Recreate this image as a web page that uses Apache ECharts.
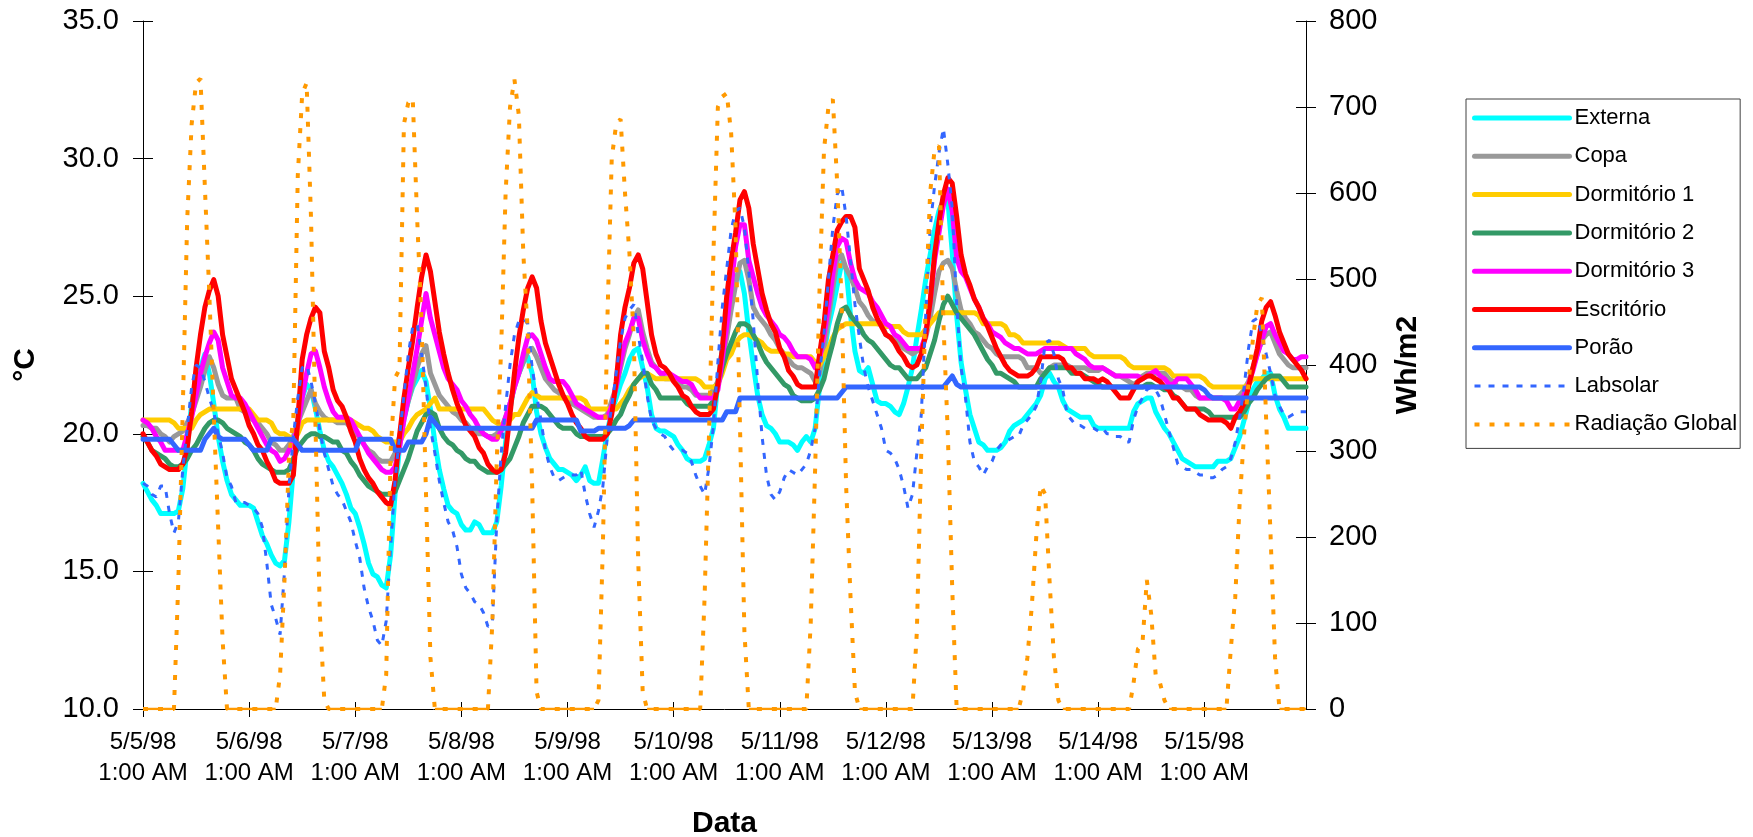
<!DOCTYPE html>
<html lang="pt-BR">
<head>
<meta charset="utf-8">
<title>Temperaturas internas e radiação global</title>
<script src="https://cdn.jsdelivr.net/npm/echarts@6/dist/echarts.min.js"></script>
<style>
  html, body { margin: 0; padding: 0; background: #ffffff; }
  #grafico { width: 1753px; height: 837px; }
</style>
</head>
<body>
<div id="grafico"></div>
<script>
// Dias e horas das leituras (uma leitura por hora)
const dias = ['5/5/98', '5/6/98', '5/7/98', '5/8/98', '5/9/98', '5/10/98',
  '5/11/98', '5/12/98', '5/13/98', '5/14/98', '5/15/98'];
const horas = ['1:00 AM', '2:00 AM', '3:00 AM', '4:00 AM', '5:00 AM', '6:00 AM',
  '7:00 AM', '8:00 AM', '9:00 AM', '10:00 AM', '11:00 AM', '12:00 PM',
  '1:00 PM', '2:00 PM', '3:00 PM', '4:00 PM', '5:00 PM', '6:00 PM',
  '7:00 PM', '8:00 PM', '9:00 PM', '10:00 PM', '11:00 PM', '12:00 AM'];

// Temperaturas (°C), uma linha por dia
const externa = [
  18.2,17.9,17.6,17.4,17.1,17.1,17.1,17.1,17.2,18.0,19.5,21.1,21.9,22.4,22.9,22.2,21.1,19.9,19.0,18.3,17.8,17.6,17.4,17.4,
  17.4,17.3,16.8,16.3,16.0,15.6,15.3,15.2,15.4,16.8,18.7,20.5,21.3,21.8,21.6,20.9,20.1,19.4,19.0,18.8,18.5,18.2,17.8,17.3,
  17.1,16.6,16.0,15.3,14.9,14.8,14.5,14.4,15.6,17.8,19.5,20.5,21.2,21.7,22.0,22.3,21.9,20.9,19.7,18.7,18.0,17.4,17.2,17.1,
  16.7,16.5,16.5,16.8,16.7,16.4,16.4,16.4,16.8,18.1,19.7,20.9,21.8,22.2,22.6,22.8,22.2,20.8,20.0,19.5,19.1,18.9,18.7,18.7,
  18.6,18.5,18.3,18.5,18.8,18.3,18.2,18.2,19.1,20.1,20.8,21.3,21.8,22.2,22.7,23.0,23.1,22.4,21.7,20.7,20.2,20.1,20.1,20.0,
  19.9,19.6,19.4,19.1,19.0,19.0,19.0,19.1,19.6,20.2,21.9,23.1,23.9,24.8,25.7,25.9,25.1,23.7,22.5,21.4,20.7,20.3,20.2,20.0,
  19.7,19.7,19.7,19.6,19.4,19.7,19.9,19.7,20.2,21.7,22.9,23.9,24.6,25.4,26.2,26.0,24.3,23.0,22.3,22.2,22.4,21.8,21.2,21.1,
  21.1,21.0,20.8,20.7,21.1,21.7,22.4,23.5,24.5,25.6,26.5,27.4,28.1,28.5,28.5,26.6,24.3,22.6,21.6,20.7,20.2,19.7,19.6,19.4,
  19.4,19.4,19.5,19.7,20.1,20.3,20.4,20.5,20.7,20.9,21.1,21.4,22.0,22.2,21.9,21.7,21.2,20.9,20.8,20.7,20.6,20.6,20.6,20.3,
  20.2,20.2,20.2,20.2,20.2,20.2,20.2,20.2,20.8,21.1,21.2,21.3,21.3,20.8,20.5,20.2,20.0,19.7,19.4,19.1,19.0,18.9,18.8,18.8,
  18.8,18.8,18.8,19.0,19.0,19.0,19.1,19.5,19.9,20.5,21.1,21.6,21.9,22.0,22.2,22.2,21.4,20.9,20.6,20.2,20.2,20.2,20.2,20.2
];
const copa = [
  20.3,20.3,20.2,20.2,20.0,19.9,19.7,19.9,20.0,20.1,20.4,20.7,21.2,21.7,22.3,22.8,22.4,21.8,21.4,21.3,21.3,21.3,20.9,20.8,
  20.6,20.5,20.4,20.2,20.0,19.7,19.6,19.4,19.4,19.6,19.9,20.4,20.8,21.2,21.6,21.1,20.8,20.6,20.5,20.5,20.4,20.4,20.4,20.2,
  20.0,19.9,19.6,19.4,19.3,19.1,19.0,19.0,19.0,19.3,19.9,20.6,21.2,21.8,22.4,22.9,23.2,22.2,21.8,21.4,21.2,21.0,20.8,20.7,
  20.5,20.4,20.2,20.1,20.0,20.0,19.9,19.9,20.0,20.2,20.6,21.1,21.7,22.2,22.6,23.0,23.1,22.8,22.4,22.0,21.8,21.6,21.5,21.3,
  21.3,21.1,21.0,20.9,20.8,20.7,20.6,20.6,20.6,20.7,21.2,21.7,22.4,23.1,23.6,24.2,24.5,23.7,23.1,22.6,22.4,22.2,22.0,22.0,
  22.0,21.9,21.7,21.7,21.6,21.4,21.4,21.4,21.4,21.6,21.9,22.7,23.5,24.5,25.4,26.2,26.3,25.6,24.6,24.3,24.1,23.9,23.6,23.4,
  23.1,22.9,22.7,22.5,22.4,22.4,22.3,22.2,21.9,22.2,23.1,24.2,25.3,26.3,26.5,26.0,25.7,25.3,24.8,24.6,24.3,24.1,24.0,24.0,
  23.6,23.5,23.4,23.3,23.1,23.0,22.9,23.0,23.1,23.5,24.2,25.1,25.9,26.2,26.3,26.0,25.2,24.5,24.2,24.0,23.7,23.6,23.4,23.2,
  23.1,22.9,22.8,22.8,22.8,22.8,22.8,22.7,22.4,22.4,22.4,22.2,22.2,22.4,22.5,22.5,22.5,22.5,22.4,22.4,22.4,22.4,22.3,22.3,
  22.3,22.4,22.3,22.2,22.1,22.1,22.0,21.9,21.8,21.9,22.1,22.2,22.2,22.2,22.2,22.2,22.0,21.9,21.7,21.7,21.6,21.6,21.4,21.3,
  21.3,21.3,21.3,21.3,21.3,21.3,21.3,21.3,21.4,21.6,21.9,22.4,22.9,23.4,23.6,23.7,23.3,22.9,22.7,22.5,22.4,22.4,22.4,22.4
];
const dormitorio1 = [
  20.5,20.5,20.5,20.5,20.5,20.5,20.5,20.4,20.2,20.2,20.2,20.2,20.5,20.7,20.8,20.9,20.9,20.9,20.9,20.9,20.9,20.9,20.9,20.9,
  20.9,20.7,20.5,20.5,20.5,20.4,20.1,20.0,20.0,19.9,19.7,20.0,20.4,20.5,20.5,20.5,20.5,20.5,20.5,20.5,20.5,20.5,20.5,20.5,
  20.4,20.3,20.2,20.2,20.1,19.9,19.8,19.7,19.7,19.7,19.7,20.0,20.2,20.5,20.7,20.8,20.9,21.1,21.3,20.9,20.9,20.9,20.9,20.9,
  20.9,20.9,20.9,20.9,20.9,20.9,20.7,20.5,20.4,20.3,20.3,20.5,20.7,20.7,21.0,21.3,21.5,21.4,21.3,21.3,21.3,21.3,21.3,21.3,
  21.3,21.3,21.3,21.3,21.2,20.9,20.9,20.9,20.9,20.9,20.9,20.9,21.1,21.3,21.6,21.8,22.0,22.1,22.2,22.1,22.0,22.0,22.0,22.0,
  22.0,22.0,22.0,22.0,22.0,22.0,21.9,21.7,21.7,21.7,21.8,22.2,22.7,22.9,23.3,23.5,23.6,23.6,23.5,23.4,23.3,23.1,23.0,23.0,
  23.0,22.9,22.9,22.8,22.8,22.8,22.8,22.8,22.6,22.5,22.8,23.1,23.5,23.8,23.9,24.0,24.0,24.0,24.0,24.0,24.0,24.0,24.0,24.0,
  23.9,23.9,23.9,23.9,23.7,23.6,23.6,23.6,23.6,23.8,24.0,24.2,24.4,24.4,24.4,24.4,24.4,24.4,24.4,24.4,24.4,24.3,24.0,24.0,
  24.0,24.0,24.0,23.9,23.6,23.6,23.5,23.3,23.3,23.3,23.3,23.3,23.3,23.3,23.3,23.3,23.2,23.1,23.1,23.1,23.1,23.1,22.9,22.8,
  22.8,22.8,22.8,22.8,22.8,22.8,22.7,22.5,22.4,22.4,22.4,22.4,22.4,22.4,22.4,22.4,22.3,22.1,22.1,22.1,22.1,22.1,22.1,22.1,
  22.0,21.8,21.7,21.7,21.7,21.7,21.7,21.7,21.7,21.7,21.8,22.0,22.0,22.0,22.0,22.0,22.0,22.0,22.0,22.0,22.0,22.0,22.0,22.0
];
const dormitorio2 = [
  19.9,19.7,19.4,19.3,19.2,19.1,18.9,18.8,18.8,18.9,19.1,19.4,19.6,19.9,20.2,20.4,20.5,20.5,20.4,20.2,20.1,20.0,19.9,19.7,
  19.6,19.4,19.1,18.9,18.8,18.7,18.6,18.6,18.6,18.7,19.1,19.5,19.7,19.9,20.0,20.0,19.9,19.9,19.8,19.7,19.7,19.4,19.3,19.0,
  18.8,18.5,18.3,18.1,18.0,17.9,17.8,17.8,17.8,17.9,18.3,18.7,19.1,19.6,20.1,20.4,20.7,20.8,20.7,20.2,19.9,19.7,19.6,19.4,
  19.3,19.1,19.0,19.0,18.8,18.7,18.6,18.6,18.6,18.7,18.9,19.1,19.5,19.9,20.4,20.7,21.0,21.0,21.0,20.9,20.7,20.5,20.3,20.2,
  20.2,20.2,20.0,19.9,19.9,19.9,19.9,19.9,19.9,20.0,20.2,20.5,20.7,21.1,21.4,21.8,22.0,22.2,22.2,21.8,21.6,21.3,21.3,21.3,
  21.3,21.3,21.3,21.1,21.0,21.0,21.0,21.0,21.0,21.2,21.8,22.4,22.9,23.3,23.7,24.0,24.0,23.9,23.6,23.3,22.9,22.6,22.4,22.2,
  22.0,21.8,21.7,21.4,21.3,21.2,21.2,21.2,21.3,21.6,22.0,22.7,23.3,24.0,24.5,24.6,24.3,24.1,23.9,23.6,23.4,23.3,23.1,22.9,
  22.7,22.5,22.4,22.4,22.2,22.0,22.0,22.0,22.2,22.4,22.9,23.4,24.1,24.7,25.0,24.7,24.4,24.2,24.0,23.8,23.6,23.3,23.0,22.7,
  22.5,22.2,22.2,22.1,22.0,21.9,21.7,21.7,21.7,21.7,21.7,22.0,22.2,22.4,22.4,22.4,22.4,22.4,22.2,22.2,22.2,22.1,22.0,21.9,
  21.8,21.7,21.7,21.7,21.7,21.7,21.7,21.7,21.7,21.7,21.7,21.8,21.8,21.7,21.7,21.6,21.6,21.4,21.3,21.1,20.9,20.9,20.9,20.9,
  20.9,20.8,20.6,20.6,20.6,20.6,20.6,20.6,20.6,20.8,21.1,21.3,21.6,21.8,22.0,22.1,22.1,22.1,21.9,21.7,21.7,21.7,21.7,21.7
];
const dormitorio3 = [
  20.5,20.4,20.2,19.9,19.7,19.4,19.4,19.4,19.4,19.4,20.0,20.6,21.4,22.2,22.8,23.3,23.7,23.4,22.4,21.9,21.4,21.3,21.3,21.1,
  20.8,20.5,20.2,19.9,19.6,19.4,19.3,19.0,19.1,19.4,19.7,20.3,21.3,22.2,22.9,23.0,22.4,21.7,21.2,20.8,20.6,20.6,20.6,20.5,
  20.2,19.9,19.6,19.3,19.1,18.9,18.7,18.6,18.6,18.8,19.5,20.5,21.3,22.2,23.1,24.1,25.1,24.2,23.6,23.0,22.4,22.0,21.8,21.6,
  21.2,21.0,20.7,20.5,20.2,20.0,19.9,19.8,19.8,20.1,20.6,21.1,21.7,22.2,22.9,23.5,23.6,23.4,22.9,22.4,22.0,21.9,21.9,21.9,
  21.7,21.4,21.1,21.0,20.9,20.8,20.7,20.6,20.6,20.6,21.0,21.7,22.6,23.3,23.7,24.2,24.2,23.4,22.9,22.5,22.4,22.2,22.2,22.2,
  22.1,22.0,21.9,21.9,21.8,21.5,21.3,21.3,21.3,21.3,21.6,22.7,23.9,25.3,26.8,27.6,27.6,26.3,25.7,25.1,24.6,24.3,24.1,23.9,
  23.6,23.5,23.3,23.0,22.8,22.8,22.8,22.7,22.4,22.7,23.6,24.6,25.8,26.8,27.1,27.0,26.2,25.6,25.3,25.2,25.1,24.8,24.6,24.3,
  24.0,23.9,23.6,23.5,23.3,23.1,23.1,23.1,23.1,23.6,24.8,26.3,27.3,28.3,28.9,28.1,26.4,25.9,25.7,25.3,24.9,24.6,24.2,24.0,
  23.7,23.6,23.5,23.3,23.2,23.1,23.1,23.0,22.9,22.9,22.9,23.0,23.1,23.1,23.1,23.1,23.1,23.1,23.1,22.9,22.8,22.7,22.5,22.4,
  22.4,22.4,22.3,22.2,22.1,22.1,22.1,22.1,22.1,22.1,22.0,22.1,22.2,22.3,22.1,22.0,21.8,21.8,22.0,22.0,22.0,21.8,21.6,21.3,
  21.3,21.3,21.3,21.3,21.3,21.2,20.9,20.9,21.2,21.4,21.8,22.3,22.9,23.4,23.9,24.0,23.6,23.3,23.0,22.9,22.7,22.7,22.8,22.8
];
const escritorio = [
  20.0,19.7,19.4,19.2,18.9,18.8,18.7,18.7,18.7,18.9,19.5,20.8,22.4,23.6,24.6,25.2,25.6,25.0,23.6,22.8,22.0,21.6,21.2,20.8,
  20.3,20.0,19.6,19.4,19.0,18.7,18.3,18.2,18.2,18.2,18.5,20.5,22.7,23.6,24.2,24.6,24.4,23.0,22.4,21.6,21.2,21.0,20.6,20.1,
  19.7,19.1,18.7,18.4,18.2,17.9,17.7,17.5,17.4,18.3,19.9,21.3,22.4,23.4,24.6,25.7,26.5,25.9,24.8,23.7,22.9,22.2,21.6,21.1,
  20.7,20.3,20.1,19.9,19.5,19.3,18.9,18.7,18.6,18.7,19.3,20.7,22.2,23.5,24.5,25.3,25.7,25.3,24.1,23.3,22.8,22.3,21.8,21.4,
  21.1,20.7,20.4,20.2,19.9,19.8,19.8,19.8,19.8,20.0,20.7,21.9,23.6,24.6,25.3,26.2,26.5,26.0,24.8,23.6,22.9,22.5,22.4,22.2,
  21.9,21.7,21.4,21.3,21.0,20.8,20.7,20.7,20.7,20.9,21.8,23.1,25.0,26.3,27.3,28.5,28.8,28.2,26.9,26.0,25.1,24.5,24.0,23.7,
  23.1,22.8,22.3,22.1,21.8,21.7,21.7,21.7,21.7,22.9,24.0,25.6,26.5,27.4,27.7,27.9,27.9,27.5,26.0,25.6,25.2,24.6,24.2,23.9,
  23.6,23.5,23.3,23.0,22.8,22.5,22.4,22.5,22.9,23.6,24.8,26.5,27.7,28.7,29.3,29.1,27.9,26.5,25.8,25.4,24.9,24.6,24.2,23.9,
  23.5,23.1,22.8,22.5,22.3,22.2,22.1,22.1,22.1,22.2,22.4,22.8,22.8,22.8,22.8,22.8,22.7,22.4,22.4,22.2,22.2,22.0,22.0,22.0,
  21.9,22.0,21.9,21.7,21.5,21.3,21.3,21.3,21.6,21.9,22.0,22.1,22.1,22.0,21.9,21.7,21.6,21.3,21.3,21.1,20.9,20.9,20.9,20.7,
  20.6,20.5,20.5,20.5,20.5,20.4,20.2,20.6,20.8,21.1,21.7,22.4,23.1,24.1,24.6,24.8,24.3,23.7,23.3,22.9,22.7,22.5,22.3,22.0
];
const porao = [
  19.8,19.8,19.8,19.8,19.8,19.8,19.8,19.6,19.4,19.4,19.4,19.4,19.4,19.4,19.8,20.0,20.2,19.9,19.8,19.8,19.8,19.8,19.8,19.8,
  19.6,19.4,19.4,19.4,19.4,19.8,19.8,19.8,19.8,19.8,19.8,19.6,19.4,19.4,19.4,19.4,19.4,19.4,19.4,19.4,19.4,19.4,19.4,19.4,
  19.4,19.8,19.8,19.8,19.8,19.8,19.8,19.8,19.8,19.4,19.4,19.4,19.7,19.7,19.7,19.7,20.0,20.6,20.4,20.2,20.2,20.2,20.2,20.2,
  20.2,20.2,20.2,20.2,20.2,20.2,20.2,20.2,20.2,20.2,20.2,20.2,20.2,20.2,20.2,20.2,20.2,20.5,20.5,20.5,20.5,20.5,20.5,20.5,
  20.5,20.5,20.5,20.1,20.1,20.1,20.1,20.2,20.2,20.2,20.2,20.2,20.2,20.2,20.3,20.5,20.5,20.5,20.5,20.5,20.5,20.5,20.5,20.5,
  20.5,20.5,20.5,20.5,20.5,20.5,20.5,20.5,20.5,20.5,20.5,20.5,20.8,20.8,20.8,21.3,21.3,21.3,21.3,21.3,21.3,21.3,21.3,21.3,
  21.3,21.3,21.3,21.3,21.3,21.3,21.3,21.3,21.3,21.3,21.3,21.3,21.3,21.3,21.5,21.7,21.7,21.7,21.7,21.7,21.7,21.7,21.7,21.7,
  21.7,21.7,21.7,21.7,21.7,21.7,21.7,21.7,21.7,21.7,21.7,21.7,21.7,21.7,21.9,22.1,21.8,21.7,21.7,21.7,21.7,21.7,21.7,21.7,
  21.7,21.7,21.7,21.7,21.7,21.7,21.7,21.7,21.7,21.7,21.7,21.7,21.7,21.7,21.7,21.7,21.7,21.7,21.7,21.7,21.7,21.7,21.7,21.7,
  21.7,21.7,21.7,21.7,21.7,21.7,21.7,21.7,21.7,21.7,21.7,21.7,21.7,21.7,21.7,21.7,21.7,21.7,21.7,21.7,21.7,21.7,21.7,21.7,
  21.6,21.4,21.3,21.3,21.3,21.3,21.3,21.3,21.3,21.3,21.3,21.3,21.3,21.3,21.3,21.3,21.3,21.3,21.3,21.3,21.3,21.3,21.3,21.3
];
const labsolar = [
  18.2,18.1,17.8,17.7,18.1,18.1,17.1,16.4,16.8,18.7,20.2,21.7,22.5,22.4,21.9,21.3,20.8,20.0,19.3,18.4,18.1,17.5,17.5,17.5,
  17.4,17.3,17.1,16.6,15.3,13.8,13.3,12.7,15.0,18.0,19.9,21.3,22.4,22.5,21.9,21.1,20.1,19.3,18.7,18.1,17.8,17.6,17.2,16.8,
  16.1,15.5,14.4,13.7,13.2,12.5,12.3,13.2,15.9,18.3,19.9,21.4,22.9,23.9,24.0,22.9,21.7,20.2,19.3,18.3,17.5,16.8,16.5,15.9,
  14.9,14.4,14.2,13.9,13.8,13.5,13.0,13.1,16.8,19.3,21.0,22.5,23.6,24.1,24.2,24.0,22.4,21.4,20.5,19.4,18.8,18.4,18.3,18.4,
  18.5,18.5,18.5,18.7,17.8,17.1,16.6,17.2,18.1,19.9,21.0,22.2,23.4,24.2,24.5,24.7,23.6,22.6,21.4,20.5,20.2,20.0,19.9,19.6,
  19.4,19.4,19.4,19.3,19.0,18.5,18.1,17.8,18.8,20.3,22.6,24.6,26.0,27.4,28.1,28.2,27.5,25.9,24.1,21.9,19.9,18.5,17.8,17.6,
  17.9,18.4,18.7,18.6,18.5,18.7,18.9,19.4,20.2,22.2,23.6,25.6,27.5,28.7,29.0,27.9,26.3,24.7,23.5,22.4,21.7,21.2,20.7,20.2,
  19.4,19.3,19.1,18.7,18.1,17.3,17.8,19.3,20.7,24.3,27.5,29.0,30.2,31.1,29.8,28.2,24.7,22.4,21.3,19.7,19.0,18.8,18.5,18.8,
  19.0,19.4,19.6,19.7,19.8,19.9,19.9,20.3,20.5,20.7,21.0,21.9,23.3,23.4,22.9,22.0,21.6,20.7,20.5,20.3,20.3,20.2,20.2,20.2,
  20.1,20.2,20.0,20.0,19.9,19.9,19.7,19.7,20.5,21.0,21.3,21.6,21.7,21.6,21.3,20.7,20.1,19.5,18.9,18.8,18.7,18.7,18.6,18.5,
  18.5,18.4,18.4,18.5,18.7,18.8,19.1,19.7,20.6,21.7,23.1,24.1,24.2,23.6,22.9,22.2,21.4,21.0,20.7,20.6,20.7,20.8,20.8,20.8
];

// Radiação global horária (Wh/m2)
const radiacaoGlobal = [
  0,0,0,0,0,0,0,0,150,350,570,680,728,733,606,482,343,211,80,0,0,0,0,0,
  0,0,0,0,0,0,0,40,150,290,340,620,715,728,570,330,110,10,0,0,0,0,0,0,
  0,0,0,0,0,0,0,40,300,385,395,680,705,710,570,450,250,60,0,0,0,0,0,0,
  0,0,0,0,0,0,0,100,290,420,600,700,732,690,530,440,260,20,0,0,0,0,0,0,
  0,0,0,0,0,0,0,10,190,450,640,680,686,600,530,430,170,20,0,0,0,0,0,0,
  0,0,0,0,0,0,0,130,320,530,700,712,716,670,560,330,90,0,0,0,0,0,0,0,
  0,0,0,0,0,0,0,100,280,490,650,700,709,610,470,260,130,20,0,0,0,0,0,0,
  0,0,0,0,0,0,0,90,300,470,600,650,655,450,320,140,0,0,0,0,0,0,0,0,
  0,0,0,0,0,0,0,20,60,120,200,260,250,150,60,10,0,0,0,0,0,0,0,0,
  0,0,0,0,0,0,0,0,30,70,75,150,110,40,30,10,0,0,0,0,0,0,0,0,
  0,0,0,0,0,0,70,130,240,320,380,430,470,478,335,200,60,0,0,0,0,0,0,0
];

const fonte = "'Liberation Sans', Arial, Helvetica, sans-serif";
const preto = '#000000';
const corRadiacao = '#FF9900';

// Eixo de categorias: dia + hora de cada leitura
const categorias = [];
dias.forEach(function (d) {
  horas.forEach(function (h) { categorias.push(d + '\n' + h); });
});

// Trechos noturnos (radiação nula) desenhados como traço contínuo sobre o eixo
const radiacaoNula = radiacaoGlobal.map(function (v, i, a) {
  const vizinhoNulo = (i > 0 && a[i - 1] === 0) || (i < a.length - 1 && a[i + 1] === 0);
  return (v === 0 && vizinhoNulo) ? 0 : null;
});

function serieTemp(nome, dados, cor) {
  return {
    name: nome, type: 'line', data: dados,
    xAxisIndex: 0, yAxisIndex: 0,
    symbol: 'none', showSymbol: false, smooth: false,
    lineStyle: { color: cor, width: 5, join: 'round', cap: 'round' },
    itemStyle: { color: cor },
    emphasis: { disabled: true }
  };
}

const series = [
  serieTemp('Externa', externa, '#00FFFF'),
  serieTemp('Copa', copa, '#999999'),
  serieTemp('Dormitório 1', dormitorio1, '#FFCC00'),
  serieTemp('Dormitório 2', dormitorio2, '#339966'),
  serieTemp('Dormitório 3', dormitorio3, '#FF00FF'),
  serieTemp('Escritório', escritorio, '#FF0000'),
  serieTemp('Porão', porao, '#3366FF'),
  {
    name: 'Labsolar', type: 'line', data: labsolar,
    xAxisIndex: 0, yAxisIndex: 0,
    symbol: 'none', showSymbol: false,
    lineStyle: { color: '#3366FF', width: 3, type: [6, 8] },
    itemStyle: { color: '#3366FF' },
    emphasis: { disabled: true }
  },
  {
    name: 'Radiação Global', type: 'line', data: radiacaoGlobal,
    xAxisIndex: 0, yAxisIndex: 1,
    symbol: 'none', showSymbol: false,
    lineStyle: { color: corRadiacao, width: 4, type: [5, 10] },
    itemStyle: { color: corRadiacao },
    emphasis: { disabled: true }
  },
  {
    name: 'radiacaoNula', type: 'line', data: radiacaoNula,
    xAxisIndex: 0, yAxisIndex: 1,
    symbol: 'none', showSymbol: false, connectNulls: false,
    lineStyle: { color: corRadiacao, width: 2.5 },
    itemStyle: { color: corRadiacao },
    emphasis: { disabled: true }
  }
];

const nomesLegenda = ['Externa', 'Copa', 'Dormitório 1', 'Dormitório 2', 'Dormitório 3',
  'Escritório', 'Porão', 'Labsolar', 'Radiação Global'];

const tituloEixo = { fontFamily: fonte, fontSize: 30, fontWeight: 'bold', color: preto };

const option = {
  animation: false,
  backgroundColor: '#ffffff',
  textStyle: { fontFamily: fonte, color: preto },
  grid: { left: 143, right: 447, top: 21, bottom: 128, containLabel: false, outerBoundsMode: 'none' },
  legend: {
    orient: 'vertical',
    left: 1466, top: 99,
    itemWidth: 95, itemHeight: 22, itemGap: 16.3,
    padding: [8, 3, 13, 6],
    backgroundColor: '#ffffff',
    borderColor: '#404040', borderWidth: 1, borderRadius: 0,
    textStyle: { fontFamily: fonte, fontSize: 22, color: preto },
    // amostra só com a linha (sem marcador), na espessura e no traço da série
    itemStyle: { opacity: 0 },
    lineStyle: { width: 'inherit', type: 'inherit' },
    selectedMode: false,
    data: nomesLegenda
  },
  xAxis: [
    {
      type: 'category', data: categorias, boundaryGap: false, position: 'bottom',
      axisLine: { show: true, lineStyle: { color: preto, width: 1 } },
      axisTick: { show: true, interval: 23, length: 8, lineStyle: { color: preto } },
      axisLabel: {
        interval: 23, fontFamily: fonte, fontSize: 24, lineHeight: 31,
        margin: 18, color: preto
      },
      splitLine: { show: false },
      name: 'Data', nameLocation: 'middle', nameGap: 100, nameTextStyle: tituloEixo
    },
    {
      type: 'category', data: categorias, boundaryGap: false, position: 'bottom',
      axisLine: { show: false },
      axisTick: { show: true, inside: true, interval: 23, length: 7, lineStyle: { color: preto } },
      axisLabel: { show: false },
      splitLine: { show: false }
    }
  ],
  yAxis: [
    {
      type: 'value', min: 10, max: 35, interval: 5, position: 'left',
      axisLine: { show: true, lineStyle: { color: preto, width: 1 } },
      axisTick: { show: true, length: 10, lineStyle: { color: preto } },
      axisLabel: {
        formatter: function (v) { return v.toFixed(1); },
        fontFamily: fonte, fontSize: 29, margin: 24, color: preto,
        showMinLabel: true, showMaxLabel: true
      },
      splitLine: { show: false },
      name: '°C', nameLocation: 'middle', nameRotate: 90, nameGap: 102,
      nameTextStyle: tituloEixo
    },
    {
      type: 'value', min: 0, max: 800, interval: 100, position: 'right',
      axisLine: { show: true, lineStyle: { color: preto, width: 1 } },
      axisTick: { show: true, length: 10, lineStyle: { color: preto } },
      axisLabel: {
        fontFamily: fonte, fontSize: 29, margin: 23, color: preto,
        showMinLabel: true, showMaxLabel: true
      },
      splitLine: { show: false },
      name: 'Wh/m2', nameLocation: 'middle', nameRotate: 90, nameGap: 87,
      nameTextStyle: tituloEixo
    },
    {
      type: 'value', min: 10, max: 35, interval: 5, position: 'left',
      axisLine: { show: false },
      axisTick: { show: true, inside: true, length: 10, lineStyle: { color: preto } },
      axisLabel: { show: false }, splitLine: { show: false }
    },
    {
      type: 'value', min: 0, max: 800, interval: 100, position: 'right',
      axisLine: { show: false },
      axisTick: { show: true, inside: true, length: 10, lineStyle: { color: preto } },
      axisLabel: { show: false }, splitLine: { show: false }
    }
  ],
  series: series
};

const grafico = echarts.init(document.getElementById('grafico'), null, { renderer: 'canvas' });
grafico.setOption(option);
</script>
</body>
</html>
